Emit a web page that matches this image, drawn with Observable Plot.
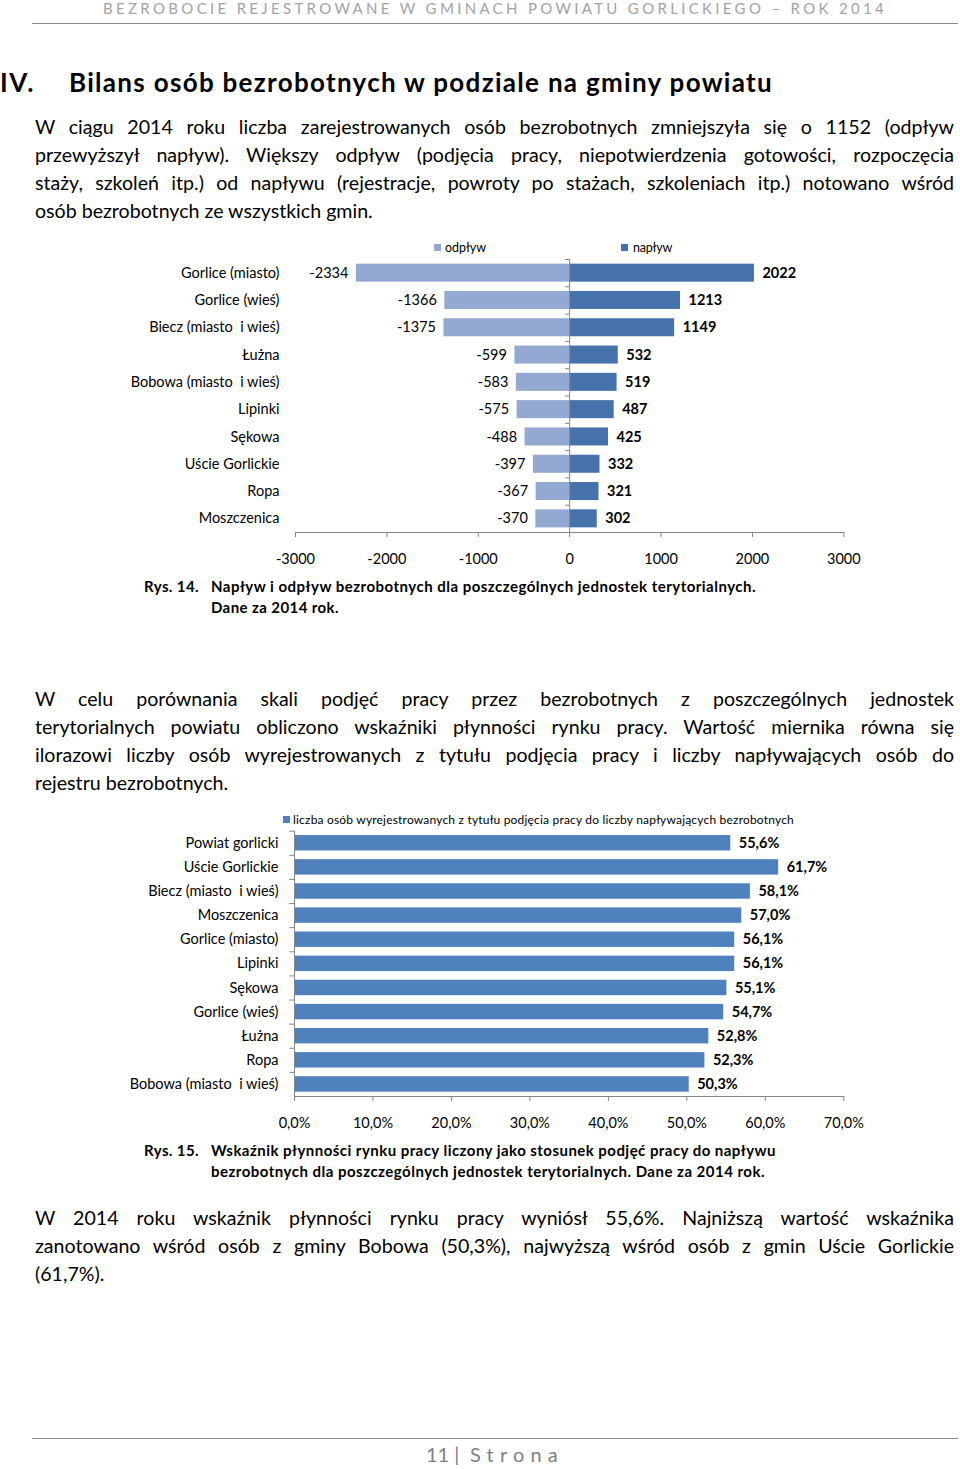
<!DOCTYPE html>
<html><head><meta charset="utf-8">
<script src="https://cdn.jsdelivr.net/npm/d3@7"></script>
<script src="https://cdn.jsdelivr.net/npm/@observablehq/plot@0.6"></script>
<style>
html,body{margin:0;padding:0;background:#fff;}
body{width:960px;height:1469px;position:relative;overflow:hidden;font-family:Lato,"Open Sans",sans-serif;color:#000;}
.a{position:absolute;white-space:pre;}
.rule{position:absolute;height:0;border-top:1.5px solid #8c8c8c;}
.sq{position:absolute;width:7px;height:7px;}
svg text{white-space:pre;}
</style></head><body>
<div id="page"></div>
<div class="rule" style="left:32px;width:926px;top:22.5px"></div>
<div class="rule" style="left:32px;width:926px;top:1437.5px"></div>
<div class="sq" style="left:434px;top:244px;background:#93a9d1"></div>
<div class="sq" style="left:621px;top:244px;background:#4672ab"></div>
<div class="sq" style="left:283px;top:816px;background:#4f81bd"></div>
<div id="c1" class="a" style="left:0;top:250px"></div>
<div id="c2" class="a" style="left:0;top:826px"></div>
<script>
// ---------- data ----------
const names1 = ["Gorlice (miasto)", "Gorlice (wieś)", "Biecz (miasto  i wieś)", "Łużna", "Bobowa (miasto  i wieś)", "Lipinki", "Sękowa", "Uście Gorlickie", "Ropa", "Moszczenica"];
const outflow = [-2334, -1366, -1375, -599, -583, -575, -488, -397, -367, -370];
const inflow = [2022, 1213, 1149, 532, 519, 487, 425, 332, 321, 302];
const ticks1 = [-3000, -2000, -1000, 0, 1000, 2000, 3000];

const names2 = ["Powiat gorlicki", "Uście Gorlickie", "Biecz (miasto  i wieś)", "Moszczenica", "Gorlice (miasto)", "Lipinki", "Sękowa", "Gorlice (wieś)", "Łużna", "Ropa", "Bobowa (miasto  i wieś)"];
const ratio = [55.6, 61.7, 58.1, 57.0, 56.1, 56.1, 55.1, 54.7, 52.8, 52.3, 50.3];
const ticks2 = [0, 10, 20, 30, 40, 50, 60, 70];

const grey = "#868686";
const FS = 14.5;
const pct = d => d.toFixed(1).replace(".", ",") + "%";

// ---------- chart 1 ----------
const rows1 = names1.map((name, i) => ({name, out: outflow[i], inn: inflow[i]}));
const chart1 = Plot.plot({
  width: 960, height: 317,
  marginLeft: 295, marginRight: 116.7, marginTop: 9, marginBottom: 35,
  style: {fontFamily: "Lato, sans-serif", fontSize: FS + "px", color: "#000", background: "transparent", overflow: "visible"},
  x: {domain: [-3000, 3000], label: null},
  y: {domain: names1, paddingInner: 0.34, paddingOuter: 0.17, round: false, label: null},
  marks: [
    Plot.barX(rows1, {x: "out", y: "name", fill: "#93a9d1"}),
    Plot.barX(rows1, {x: "inn", y: "name", fill: "#4672ab"}),
    Plot.ruleX([0], {stroke: grey}),
    Plot.ruleY(rows1, {y: "name", x1: -45, x2: 0, stroke: grey, dy: -13.65}),
    Plot.frame({anchor: "bottom", stroke: grey}),
    Plot.axisX({ticks: ticks1, tickSize: 5, tickFormat: () => "", stroke: grey, label: null}),
    Plot.axisX({ticks: ticks1, tickSize: 0, tickPadding: 21, tickFormat: d => String(d), fontSize: FS, label: null}),
    Plot.axisY({tickSize: 0, tickPadding: 16, fontSize: FS, label: null}),
    Plot.text(rows1, {x: "out", y: "name", text: d => String(d.out), textAnchor: "end", dx: -8, fontSize: FS}),
    Plot.text(rows1, {x: "inn", y: "name", text: d => String(d.inn), textAnchor: "start", dx: 8, fontSize: FS, fontWeight: "bold"})
  ]
});
document.getElementById("c1").appendChild(chart1);

// ---------- chart 2 ----------
const rows2 = names2.map((name, i) => ({name, v: ratio[i]}));
const chart2 = Plot.plot({
  width: 960, height: 305,
  marginLeft: 294, marginRight: 116.7, marginTop: 4.7, marginBottom: 35,
  style: {fontFamily: "Lato, sans-serif", fontSize: FS + "px", color: "#000", background: "transparent", overflow: "visible"},
  x: {domain: [0, 70], label: null},
  y: {domain: names2, paddingInner: 0.36, paddingOuter: 0.18, round: false, label: null},
  marks: [
    Plot.barX(rows2, {x: "v", y: "name", fill: "#4f81bd"}),
    Plot.ruleX([0], {stroke: grey}),
    Plot.ruleY(rows2, {y: "name", x1: -0.6, x2: 0, stroke: grey, dy: -12.06}),
    Plot.frame({anchor: "bottom", stroke: grey}),
    Plot.axisX({ticks: ticks2, tickSize: 5, tickFormat: () => "", stroke: grey, label: null}),
    Plot.axisX({ticks: ticks2, tickSize: 0, tickPadding: 21, tickFormat: pct, fontSize: FS, label: null}),
    Plot.axisY({tickSize: 0, tickPadding: 16, fontSize: FS, label: null}),
    Plot.text(rows2, {x: "v", y: "name", text: d => pct(d.v), textAnchor: "start", dx: 8, fontSize: FS, fontWeight: "bold"})
  ]
});
document.getElementById("c2").appendChild(chart2);

// ---------- page text ----------
const page = document.getElementById("page");
const fits = [];
function T(text, x, base, size, o = {}) {
  const s = document.createElement("span");
  s.className = "a";
  s.textContent = text;
  s.style.left = x + "px";
  s.style.top = (base - 0.987 * size) + "px";
  s.style.fontSize = size + "px";
  s.style.lineHeight = (1.2 * size) + "px";
  if (o.bold) s.style.fontWeight = "700";
  if (o.color) s.style.color = o.color;
  page.appendChild(s);
  if (o.w) fits.push([s, o.w, o.mode || "ls"]);
  return s;
}
function doFit() {
  for (const [s, w, mode] of fits) {
    s.style.letterSpacing = "0px";
    s.style.wordSpacing = "0px";
    let nat = s.getBoundingClientRect().width;
    const n = s.textContent.length;
    if (mode === "ls") {
      s.style.letterSpacing = ((w - nat) / n) + "px";
    } else {
      if (nat > w - 12) {
        const ls = (w - 12 - nat) / n;
        s.style.letterSpacing = ls + "px";
        nat = s.getBoundingClientRect().width;
      }
      const spaces = (s.textContent.match(/ /g) || []).length;
      if (spaces) s.style.wordSpacing = ((w - nat) / spaces) + "px";
    }
  }
}

// header
T("BEZROBOCIE REJESTROWANE W GMINACH POWIATU GORLICKIEGO – ROK 2014", 103, 14, 15, {color: "#a3a3a3", w: 784});
// title
T("IV.", 0, 93, 26, {bold: true, w: 35});
T("Bilans osób bezrobotnych w podziale na gminy powiatu", 69, 93, 26, {bold: true, w: 704});

const PW = 919, PX = 35, PS = 19.6;
function para(lines, base) {
  lines.forEach((ln, i) => {
    const last = i === lines.length - 1;
    T(ln, PX, base + 28 * i, PS, last ? {} : {w: PW, mode: "ws"});
  });
}
para([
  "W ciągu 2014 roku liczba zarejestrowanych osób bezrobotnych zmniejszyła się o 1152 (odpływ",
  "przewyższył napływ). Większy odpływ (podjęcia pracy, niepotwierdzenia gotowości, rozpoczęcia",
  "staży, szkoleń itp.) od napływu (rejestracje, powroty po stażach, szkoleniach itp.) notowano wśród",
  "osób bezrobotnych ze wszystkich gmin."
], 134);

// legend chart 1
T("odpływ", 445, 252.5, 12.5, {w: 41});
T("napływ", 633, 252.5, 12.5, {w: 39});

// caption 1
T("Rys. 14.", 144, 592, 15, {bold: true, w: 55});
T("Napływ i odpływ bezrobotnych dla poszczególnych jednostek terytorialnych.", 211, 592, 15, {bold: true, w: 545});
T("Dane za 2014 rok.", 211, 613, 15, {bold: true, w: 128});

para([
  "W celu porównania skali podjęć pracy przez bezrobotnych z poszczególnych jednostek",
  "terytorialnych powiatu obliczono wskaźniki płynności rynku pracy. Wartość miernika równa się",
  "ilorazowi liczby osób wyrejestrowanych z tytułu podjęcia pracy i liczby napływających osób do",
  "rejestru bezrobotnych."
], 706);

// legend chart 2
T("liczba osób wyrejestrowanych z tytułu podjęcia pracy do liczby napływających bezrobotnych", 293, 824.5, 12, {w: 501});

// caption 2
T("Rys. 15.", 144, 1156, 15, {bold: true, w: 55});
T("Wskaźnik płynności rynku pracy liczony jako stosunek podjęć pracy do napływu", 211, 1156, 15, {bold: true, w: 565});
T("bezrobotnych dla poszczególnych jednostek terytorialnych. Dane za 2014 rok.", 211, 1177, 15, {bold: true, w: 554});

para([
  "W 2014 roku wskaźnik płynności rynku pracy wyniósł 55,6%. Najniższą wartość wskaźnika",
  "zanotowano wśród osób z gminy Bobowa (50,3%), najwyższą wśród osób z gmin Uście Gorlickie",
  "(61,7%)."
], 1225);

// footer
T("11 |", 426, 1462, 20, {color: "#808080"});
T("Strona", 470, 1462, 20, {color: "#808080", w: 94});

doFit();
if (document.fonts && document.fonts.ready) document.fonts.ready.then(doFit);
</script>
</body></html>
